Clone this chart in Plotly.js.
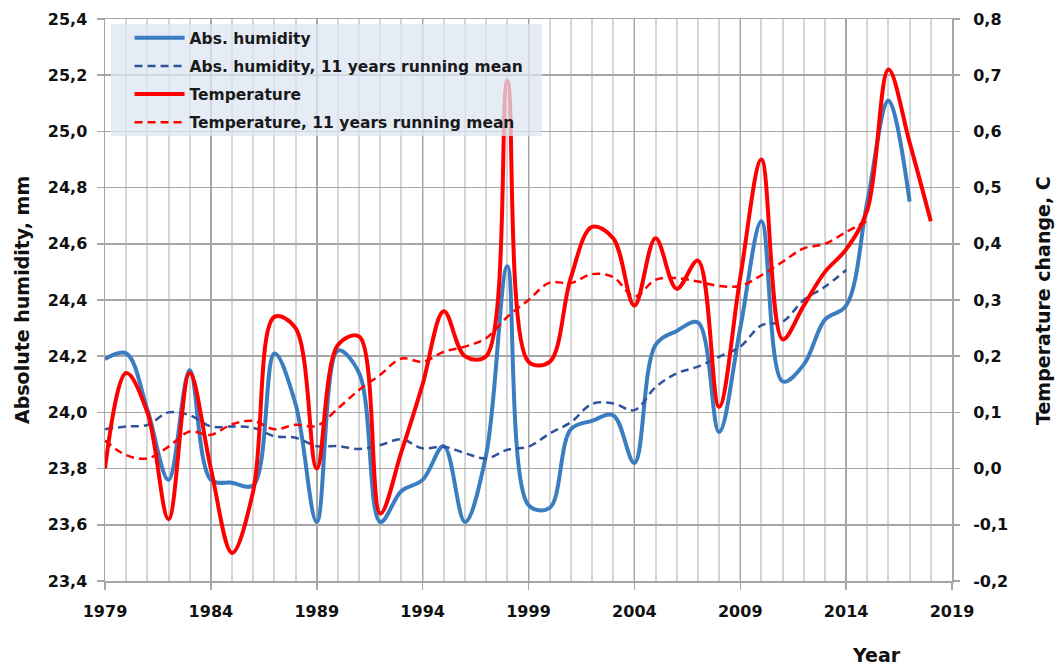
<!DOCTYPE html>
<html>
<head>
<meta charset="utf-8">
<script src="https://cdn.plot.ly/plotly-3.0.1.min.js"></script>
<style>
  html, body { margin: 0; padding: 0; background: #ffffff; }
  #chart { width: 1055px; height: 667px; }
</style>
</head>
<body>
<div id="chart"></div>
<script>
// Yearly series, 1979 onward
const years = [1979, 1980, 1981, 1982, 1983, 1984, 1985, 1986, 1987, 1988,
               1989, 1990, 1991, 1992, 1993, 1994, 1995, 1996, 1997, 1998,
               1999, 2000, 2001, 2002, 2003, 2004, 2005, 2006, 2007, 2008,
               2009, 2010, 2011, 2012, 2013, 2014, 2015, 2016, 2017, 2018];

// Absolute humidity, mm (1979-2017)
const absHumidity = [24.19, 24.21, 24.01, 23.76, 24.15, 23.76, 23.75, 23.74, 24.21, 24.03,
                     23.61, 24.22, 24.14, 23.61, 23.72, 23.76, 23.88, 23.61, 23.85, 24.52,
                     23.67, 23.66, 23.94, 23.97, 23.99, 23.82, 24.24, 24.29, 24.32, 23.93,
                     24.30, 24.68, 24.11, 24.17, 24.33, 24.38, 24.75, 25.11, 24.75];

// Absolute humidity, 11 years running mean (1979-2014)
const absHumidityMean = [23.94, 23.95, 23.955, 24.00, 23.99, 23.95, 23.95, 23.945, 23.915, 23.91,
                         23.88, 23.88, 23.87, 23.884, 23.904, 23.872, 23.878, 23.855, 23.836, 23.867,
                         23.878, 23.925, 23.965, 24.03, 24.032, 24.008, 24.09, 24.139, 24.163, 24.198,
                         24.234, 24.31, 24.323, 24.40, 24.447, 24.507];

// Temperature change, C (1979-2018)
const temperature = [0.00, 0.17, 0.10, -0.09, 0.17, 0.00, -0.15, -0.04, 0.27, 0.25,
                     0.00, 0.22, 0.235, -0.08, 0.03, 0.15, 0.28, 0.20, 0.20, 0.69,
                     0.19, 0.19, 0.34, 0.43, 0.41, 0.29, 0.41, 0.32, 0.37, 0.11,
                     0.34, 0.55, 0.23, 0.29, 0.35, 0.39, 0.46, 0.71, 0.58, 0.44];

// Temperature, 11 years running mean (1979-2015)
const temperatureMean = [0.05, 0.024, 0.018, 0.039, 0.066, 0.06, 0.079, 0.085, 0.07, 0.078,
                         0.076, 0.107, 0.14, 0.167, 0.196, 0.19, 0.208, 0.217, 0.232, 0.27,
                         0.30, 0.331, 0.33, 0.346, 0.341, 0.306, 0.336, 0.339, 0.333, 0.325,
                         0.325, 0.344, 0.368, 0.392, 0.40, 0.421, 0.441];

// Axis ticks and labels
const yearTicks = [1979, 1984, 1989, 1994, 1999, 2004, 2009, 2014, 2019];
const yearLabels = ['1979', '1984', '1989', '1994', '1999', '2004', '2009', '2014', '2019'];
const humTicks = [23.4, 23.6, 23.8, 24.0, 24.2, 24.4, 24.6, 24.8, 25.0, 25.2, 25.4];
const humLabels = ['23,4', '23,6', '23,8', '24,0', '24,2', '24,4', '24,6', '24,8', '25,0', '25,2', '25,4'];
const tempTicks = [-0.2, -0.1, 0.0, 0.1, 0.2, 0.3, 0.4, 0.5, 0.6, 0.7, 0.8];
const tempLabels = ['-0,2', '-0,1', '0,0', '0,1', '0,2', '0,3', '0,4', '0,5', '0,6', '0,7', '0,8'];

const seriesNames = ['Abs. humidity', 'Abs. humidity, 11 years running mean',
                     'Temperature', 'Temperature, 11 years running mean'];

const BLUE = '#3a7dc0';
const DARK_BLUE = '#2f529c';
const RED = '#ff0000';
const GRID = '#a6a6a6';
const MINOR_GRID = '#d6d6d6';
const FONT = 'DejaVu Sans, Verdana, sans-serif';

const traces = [
  {
    x: years.slice(0, absHumidity.length), y: absHumidity,
    name: seriesNames[0], legendgroup: 'g1', yaxis: 'y',
    type: 'scatter', mode: 'lines',
    line: { color: BLUE, width: 4, shape: 'spline', smoothing: 1 }
  },
  {
    x: years.slice(0, absHumidityMean.length), y: absHumidityMean,
    name: seriesNames[1], legendgroup: 'g2', yaxis: 'y',
    type: 'scatter', mode: 'lines',
    line: { color: DARK_BLUE, width: 2.5, dash: '8px,5px', shape: 'spline', smoothing: 1 }
  },
  {
    x: years.slice(0, temperature.length), y: temperature,
    name: seriesNames[2], legendgroup: 'g3', yaxis: 'y2',
    type: 'scatter', mode: 'lines',
    line: { color: RED, width: 4, shape: 'spline', smoothing: 1 }
  },
  {
    x: years.slice(0, temperatureMean.length), y: temperatureMean,
    name: seriesNames[3], legendgroup: 'g4', yaxis: 'y2',
    type: 'scatter', mode: 'lines',
    line: { color: RED, width: 2.5, dash: '8px,5px', shape: 'spline', smoothing: 1 }
  }
];

const tickFont = { family: FONT, size: 16, color: '#111111', weight: 700 };
const titleFont = { family: FONT, size: 19, color: '#111111', weight: 700 };

const layout = {
  width: 1055,
  height: 667,
  margin: { l: 105, r: 103, t: 19, b: 86, pad: 0 },
  paper_bgcolor: '#ffffff',
  plot_bgcolor: '#ffffff',
  font: { family: FONT, size: 16, color: '#111111' },
  showlegend: true,
  legend: {
    x: 0.029, xanchor: 'left', y: 0.996, yanchor: 'top',
    bgcolor: 'rgba(0,0,0,0)', borderwidth: 0,
    font: { family: FONT, size: 15.5, color: '#1a1a1a', weight: 700 },
    tracegroupgap: 5, itemwidth: 50
  },
  xaxis: {
    range: [1979, 2019],
    tickmode: 'array', tickvals: yearTicks, ticktext: yearLabels,
    ticks: 'outside', ticklen: 7, tickwidth: 1.5, tickcolor: GRID,
    tickfont: tickFont, ticklabelstandoff: 8,
    showgrid: true, gridcolor: GRID, gridwidth: 1.5,
    minor: { tick0: 1979, dtick: 1, showgrid: true, gridcolor: MINOR_GRID, gridwidth: 2, ticks: '' },
    showline: true, linecolor: GRID, linewidth: 1.5, mirror: true,
    zeroline: false
  },
  yaxis: {
    range: [23.4, 25.4],
    tickmode: 'array', tickvals: humTicks, ticktext: humLabels,
    ticks: 'outside', ticklen: 7, tickwidth: 1.5, tickcolor: GRID,
    tickfont: tickFont, ticklabelstandoff: 6,
    showgrid: true, gridcolor: GRID, gridwidth: 1.5,
    showline: true, linecolor: GRID, linewidth: 1.5, mirror: true,
    zeroline: false
  },
  yaxis2: {
    overlaying: 'y', side: 'right',
    range: [-0.2, 0.8],
    tickmode: 'array', tickvals: tempTicks, ticktext: tempLabels,
    ticks: 'outside', ticklen: 7, tickwidth: 1.5, tickcolor: GRID,
    tickfont: tickFont, ticklabelstandoff: 10,
    showgrid: false, showline: false, zeroline: false
  },
  shapes: [
    {
      // translucent panel behind the legend entries
      type: 'rect', xref: 'paper', yref: 'paper', layer: 'above',
      x0: 0.0071, x1: 0.516, y0: 0.792, y1: 0.991,
      fillcolor: 'rgba(220,230,242,0.75)', line: { width: 0 }
    }
  ],
  annotations: [
    {
      text: 'Absolute humidity, mm', xref: 'paper', yref: 'paper',
      x: -0.098, y: 0.5, xanchor: 'center', yanchor: 'middle',
      textangle: -90, showarrow: false, font: titleFont
    },
    {
      text: 'Temperature change, C', xref: 'paper', yref: 'paper',
      x: 1.1074, y: 0.5, xanchor: 'center', yanchor: 'middle',
      textangle: -90, showarrow: false, font: titleFont
    },
    {
      text: 'Year', xref: 'paper', yref: 'paper',
      x: 0.9103, y: -0.1317, xanchor: 'center', yanchor: 'middle',
      showarrow: false, font: titleFont
    }
  ]
};

Plotly.newPlot('chart', traces, layout, { displayModeBar: false, staticPlot: true });
</script>
</body>
</html>
